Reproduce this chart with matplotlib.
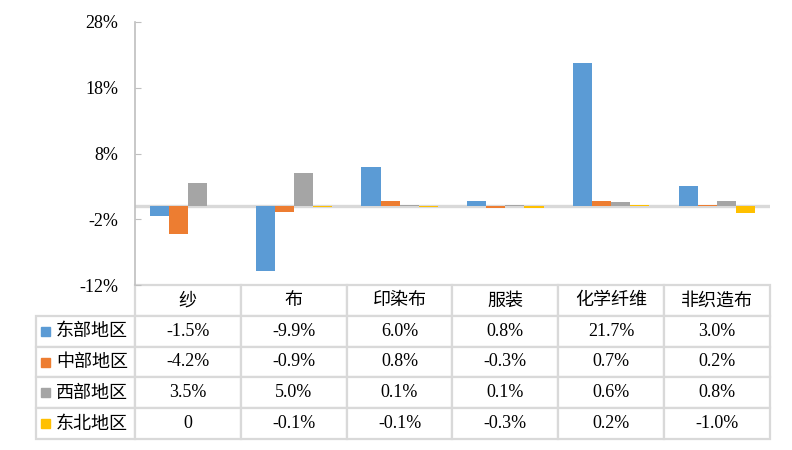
import matplotlib
matplotlib.use("Agg")
import matplotlib.pyplot as plt
from matplotlib.patches import Rectangle
import numpy as np

# data
categories = ["纱", "布", "印染布", "服装", "化学纤维", "非织造布"]
regions = ["东部地区", "中部地区", "西部地区", "东北地区"]
east = [-1.5, -9.9, 6.0, 0.8, 21.7, 3.0]
central = [-4.2, -0.9, 0.8, -0.3, 0.7, 0.2]
west = [3.5, 5.0, 0.1, 0.1, 0.6, 0.8]
northeast = [0.0, -0.1, -0.1, -0.3, 0.2, -1.0]
yticks = [-12, -2, 8, 18, 28]

series = [east, central, west, northeast]
colors = ["#5B9BD5", "#ED7D31", "#A5A5A5", "#FFC000"]

serif = "Liberation Serif"
cjk = ["Noto Sans CJK SC", "DejaVu Sans"]
fs = 13

fig = plt.figure(figsize=(7.92, 4.5), dpi=100)
# axes placed in pixels: left 135, right 770, top 22, bottom 285
W, H = 792.0, 450.0
ax = fig.add_axes([135 / W, 1 - 285 / H, 635 / W, 263 / H])

x = np.arange(len(categories))
bw = 0.18
for i, (vals, c) in enumerate(zip(series, colors)):
    ax.bar(x + (i - 1.5) * bw, vals, width=bw, color=c, zorder=2)

ax.axhline(0, color="#D9D9D9", lw=2.4, zorder=1)
ax.set_xlim(-0.5, len(categories) - 0.5)
ax.set_ylim(-12, 28)
ax.set_yticks(yticks)
ax.set_yticklabels([f"{t}%" for t in yticks], fontfamily=serif, fontsize=fs)
ax.set_xticks([])
ax.tick_params(axis="y", direction="in", length=4, color="#BFBFBF", pad=12)
for s in ["top", "right", "bottom"]:
    ax.spines[s].set_visible(False)
ax.spines["left"].set_color("#BFBFBF")
ax.spines["left"].set_linewidth(1.2)

# table below axes
def fmt(v):
    return "0" if v == 0 else f"{v:.1f}%"

rows = [[""] + categories]
for r, vals in zip(regions, series):
    rows.append([r] + [fmt(v) for v in vals])

tb_h = 154 / 263.0
tb_x0 = (36 - 135) / 635.0
tbl = ax.table(cellText=rows, colWidths=[99] + [106] * 6,
               bbox=[tb_x0, -tb_h, 1 - tb_x0, tb_h], cellLoc="center")
tbl.auto_set_font_size(False)
for (r, c), cell in tbl.get_celld().items():
    cell.set_edgecolor("#D9D9D9")
    cell.set_linewidth(1.6)
    t = cell.get_text()
    t.set_fontsize(fs)
    if r == 0 or c == 0:
        t.set_fontfamily(cjk)
    else:
        t.set_fontfamily(serif)
    if r == 0 and c == 0:
        cell.visible_edges = ""
    if c == 0 and r > 0:
        t.set_horizontalalignment("left")
        cell.PAD = 0.2

# legend keys in row label cells
row_h = tb_h / 5
for i, c in enumerate(colors):
    yc = -(i + 1.5) * row_h
    sw, sh = 9 / 635.0, 9 / 263.0
    ax.add_patch(Rectangle(((41 - 135) / 635.0, yc - sh / 2), sw, sh,
                           transform=ax.transAxes, color=c, clip_on=False))

plt.savefig("out.png", dpi=100)
